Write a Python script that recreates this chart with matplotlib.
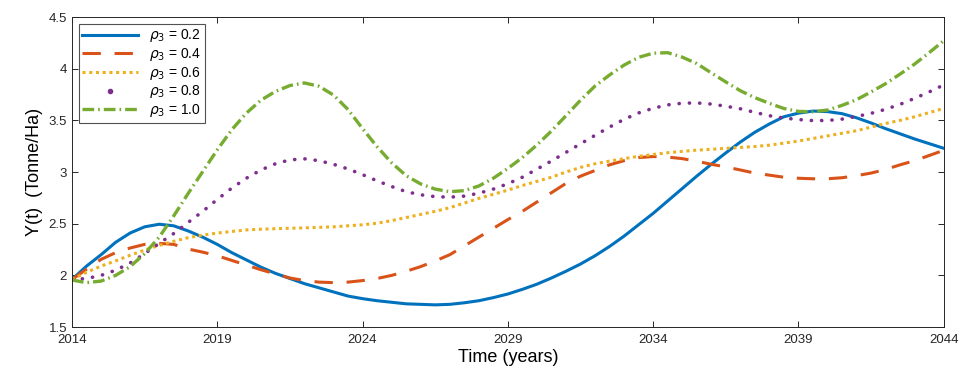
import matplotlib
matplotlib.use("Agg")
import numpy as np
import matplotlib.pyplot as plt
from matplotlib.lines import Line2D
from matplotlib.ticker import FormatStrFormatter

plt.rcParams['font.family'] = ['Liberation Sans', 'DejaVu Sans']

# half-year steps, 2014 .. 2044
t = np.arange(2014, 2044.5, 0.5)

# Y(t) for each rho_3
y_02 = [1.96, 2.09, 2.20, 2.32, 2.41, 2.47, 2.495, 2.48, 2.43, 2.37,
        2.30, 2.22, 2.15, 2.08, 2.02, 1.97, 1.92, 1.88, 1.84, 1.80,
        1.775, 1.755, 1.74, 1.725, 1.72, 1.715, 1.72, 1.735, 1.755, 1.785,
        1.82, 1.865, 1.915, 1.975, 2.04, 2.11, 2.19, 2.28, 2.38, 2.49,
        2.60, 2.72, 2.84, 2.96, 3.075, 3.185, 3.29, 3.385, 3.465, 3.535,
        3.57, 3.59, 3.585, 3.565, 3.525, 3.475, 3.42, 3.37, 3.32, 3.275,
        3.23]
y_04 = [1.96, 2.06, 2.155, 2.22, 2.265, 2.30, 2.31, 2.30, 2.255, 2.225,
        2.19, 2.145, 2.10, 2.055, 2.015, 1.975, 1.95, 1.935, 1.93, 1.935,
        1.95, 1.97, 2.00, 2.04, 2.085, 2.14, 2.20, 2.285, 2.37, 2.455,
        2.54, 2.62, 2.71, 2.80, 2.89, 2.96, 3.015, 3.07, 3.11, 3.14,
        3.15, 3.145, 3.13, 3.105, 3.075, 3.05, 3.02, 2.99, 2.97, 2.95,
        2.94, 2.935, 2.935, 2.945, 2.965, 2.99, 3.025, 3.07, 3.11, 3.16,
        3.21]
y_06 = [1.96, 2.03, 2.09, 2.14, 2.195, 2.245, 2.29, 2.33, 2.365, 2.39,
        2.41, 2.425, 2.44, 2.447, 2.452, 2.456, 2.46, 2.465, 2.47, 2.48,
        2.49, 2.505, 2.53, 2.56, 2.59, 2.62, 2.655, 2.70, 2.745, 2.785,
        2.825, 2.87, 2.91, 2.95, 3.00, 3.045, 3.08, 3.106, 3.13, 3.152,
        3.17, 3.187, 3.20, 3.212, 3.22, 3.23, 3.238, 3.247, 3.26, 3.28,
        3.30, 3.325, 3.35, 3.375, 3.40, 3.435, 3.47, 3.50, 3.535, 3.575,
        3.615]
y_08 = [1.96, 1.97, 2.00, 2.05, 2.12, 2.21, 2.31, 2.405, 2.513, 2.62,
        2.735, 2.845, 2.94, 3.02, 3.08, 3.118, 3.128, 3.11, 3.075, 3.03,
        2.975, 2.915, 2.86, 2.81, 2.78, 2.762, 2.757, 2.767, 2.795, 2.835,
        2.887, 2.95, 3.028, 3.107, 3.19, 3.273, 3.355, 3.435, 3.51, 3.572,
        3.617, 3.65, 3.666, 3.669, 3.658, 3.637, 3.612, 3.578, 3.545, 3.523,
        3.508, 3.498, 3.499, 3.512, 3.538, 3.568, 3.607, 3.655, 3.713, 3.775,
        3.843]
y_10 = [1.955, 1.93, 1.945, 2.00, 2.085, 2.21, 2.37, 2.575, 2.794, 3.005,
        3.215, 3.41, 3.57, 3.695, 3.78, 3.837, 3.862, 3.83, 3.745, 3.605,
        3.42, 3.245, 3.09, 2.965, 2.885, 2.835, 2.81, 2.82, 2.865, 2.94,
        3.035, 3.14, 3.262, 3.397, 3.545, 3.695, 3.832, 3.939, 4.035, 4.11,
        4.15, 4.155, 4.112, 4.05, 3.96, 3.872, 3.787, 3.72, 3.665, 3.615,
        3.587, 3.583, 3.60, 3.645, 3.70, 3.775, 3.855, 3.948, 4.045, 4.155,
        4.27]

labels = [r'$\rho_3$ = 0.2', r'$\rho_3$ = 0.4', r'$\rho_3$ = 0.6',
          r'$\rho_3$ = 0.8', r'$\rho_3$ = 1.0']

fig = plt.figure(figsize=(9.6, 3.7), dpi=100)
ax = fig.add_axes([0.075, 0.116, 0.908, 0.838])

l1, = ax.plot(t, y_02, color='#0072BD', lw=2.2, ls='-')
l2, = ax.plot(t, y_04, color='#D95319', lw=2.2, ls=(0, (6, 4.5)))
l3, = ax.plot(t, y_06, color='#EDB120', lw=2.2, ls=(0, (1, 1.2)))
l4, = ax.plot(t, y_08, color='#7E2F8E', lw=2.6, ls=(0, (0.05, 2.8)),
              dash_capstyle='round')
l5, = ax.plot(t, y_10, color='#77AC30', lw=2.4, ls=(0, (3.5, 1.2, 0.5, 1.2)))

# legend shows a single dot for the 0.8 curve, like the original
dot = Line2D([], [], color='#7E2F8E', ls='none', marker='.', markersize=6)
leg = ax.legend([l1, l2, l3, dot, l5], labels, loc='upper left',
                fontsize=10, fancybox=False, edgecolor='#262626',
                handlelength=4.0, borderaxespad=0.5, labelspacing=0.12,
                borderpad=0.25)
leg.get_frame().set_linewidth(0.8)

ax.set_xlim(2014, 2044)
ax.set_ylim(1.5, 4.5)
ax.set_xticks(range(2014, 2045, 5))
ax.set_yticks([1.5, 2, 2.5, 3, 3.5, 4, 4.5])
ax.yaxis.set_major_formatter(FormatStrFormatter('%g'))
ax.tick_params(direction='in', top=True, right=True, labelsize=9.5,
               length=4, width=0.7, colors='#262626')
ax.tick_params(axis='x', pad=5)
for s in ax.spines.values():
    s.set_linewidth(0.7)
    s.set_color('#262626')

ax.set_xlabel('Time (years)', fontsize=13, labelpad=2)
ax.set_ylabel('Y(t)  (Tonne/Ha)', fontsize=13)

fig.savefig('out.png', dpi=100)
